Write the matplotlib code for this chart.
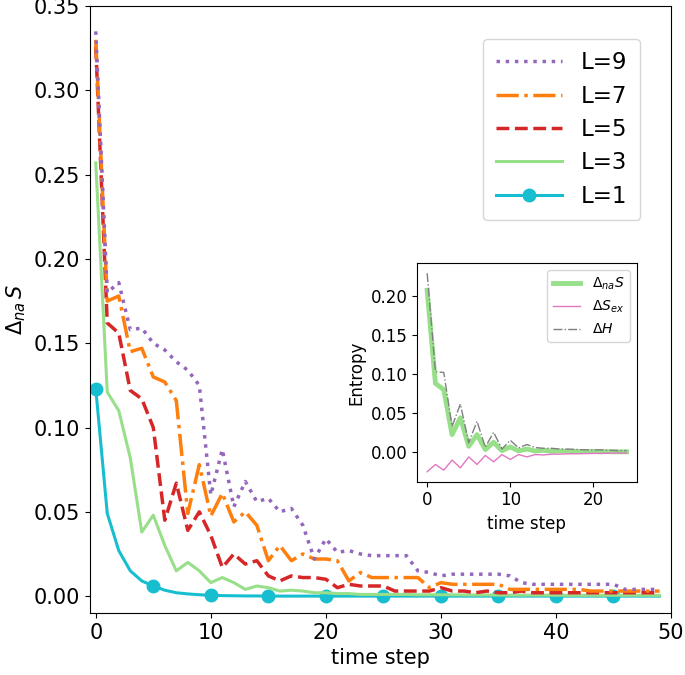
import numpy as np
import matplotlib
matplotlib.use("Agg")
import matplotlib.pyplot as plt

# main panel: Delta_na S per time step for each L
t = np.arange(50)
s_L1 = [0.123, 0.049, 0.027, 0.015, 0.009, 0.006, 0.0035, 0.002, 0.0013, 0.0008,
        0.0005, 0.0003, 0.0002, 0.0001, 0.0001] + [0.0] * 35
s_L3 = [0.257, 0.121, 0.110, 0.082, 0.038, 0.048, 0.030, 0.015, 0.020, 0.015,
        0.008, 0.011, 0.008, 0.004, 0.006, 0.005, 0.003, 0.0035, 0.003, 0.002,
        0.002, 0.0015, 0.0015, 0.001, 0.001, 0.001, 0.001, 0.001, 0.0008, 0.0008,
        0.0008, 0.0008, 0.0007, 0.0007, 0.0007, 0.0006, 0.0006, 0.0006, 0.0006, 0.0006,
        0.0005, 0.0005, 0.0005, 0.0005, 0.0005, 0.0005, 0.0005, 0.0005, 0.0005, 0.0005]
s_L5 = [0.326, 0.162, 0.156, 0.122, 0.117, 0.100, 0.045, 0.067, 0.039, 0.050,
        0.036, 0.017, 0.025, 0.019, 0.021, 0.012, 0.009, 0.012, 0.011, 0.011,
        0.010, 0.005, 0.007, 0.006, 0.006, 0.006, 0.003, 0.003, 0.003, 0.003,
        0.005, 0.003, 0.003, 0.002, 0.003, 0.002, 0.002, 0.003, 0.002, 0.002,
        0.002, 0.002, 0.002, 0.002, 0.002, 0.002, 0.002, 0.002, 0.002, 0.002]
s_L7 = [0.330, 0.175, 0.178, 0.145, 0.147, 0.130, 0.127, 0.116, 0.049, 0.078,
        0.0475, 0.061, 0.044, 0.050, 0.042, 0.021, 0.030, 0.021, 0.025, 0.022,
        0.022, 0.021, 0.009, 0.014, 0.011, 0.011, 0.011, 0.011, 0.011, 0.005,
        0.008, 0.007, 0.007, 0.007, 0.007, 0.007, 0.004, 0.004, 0.004, 0.004,
        0.004, 0.004, 0.004, 0.003, 0.003, 0.003, 0.003, 0.003, 0.003, 0.003]
s_L9 = [0.335, 0.180, 0.186, 0.158, 0.159, 0.150, 0.146, 0.139, 0.134, 0.125,
        0.060, 0.087, 0.053, 0.068, 0.056, 0.058, 0.050, 0.052, 0.042, 0.022,
        0.034, 0.026, 0.027, 0.025, 0.024, 0.024, 0.024, 0.024, 0.015, 0.014,
        0.012, 0.013, 0.013, 0.013, 0.013, 0.013, 0.012, 0.008, 0.007, 0.007,
        0.007, 0.007, 0.007, 0.007, 0.007, 0.007, 0.004, 0.004, 0.004, 0.004]

# inset: L=3 entropy decomposition
t_in = np.arange(25)
na_S = [0.207, 0.088, 0.080, 0.0225, 0.044, 0.0076, 0.0225, 0.0034, 0.0127, 0.002,
        0.0068, 0.0017, 0.004, 0.0015, 0.0025, 0.0012, 0.0015, 0.001, 0.001, 0.0008,
        0.0008, 0.0006, 0.0006, 0.0005, 0.0005]
S_ex = [-0.025, -0.0157, -0.023, -0.010, -0.020, -0.006, -0.0157, -0.0042, -0.0123, -0.003,
        -0.0093, -0.003, -0.006, -0.003, -0.0035, -0.0025, -0.0025, -0.002, -0.002, -0.0018,
        -0.0015, -0.0015, -0.0012, -0.001, -0.001]
dH = [0.229, 0.103, 0.102, 0.033, 0.0616, 0.012, 0.0395, 0.0064, 0.0255, 0.004,
      0.0153, 0.0055, 0.0098, 0.006, 0.005, 0.005, 0.004, 0.004, 0.0035, 0.003,
      0.003, 0.003, 0.0025, 0.002, 0.002]

fig = plt.figure(figsize=(6.85, 6.75), dpi=100)
ax = fig.add_axes([0.1314, 0.0919, 0.8482, 0.8991])

ax.plot(t, s_L1, color="#17becf", lw=2.2, marker="o", markersize=9, markevery=5, label="L=1")
ax.plot(t, s_L3, color="#98df8a", lw=2.2, label="L=3")
ax.plot(t, s_L5, color="#d62728", lw=2.5, ls="--", label="L=5")
ax.plot(t, s_L7, color="#ff7f0e", lw=2.5, ls="-.", label="L=7")
ax.plot(t, s_L9, color="#9467bd", lw=2.5, ls=":", label="L=9")

ax.set_xlim(-0.5, 50)
ax.set_ylim(-0.01, 0.35)
ax.set_yticks(np.arange(0, 0.36, 0.05))
ax.tick_params(labelsize=15)
ax.set_xlabel("time step", fontsize=15)
ax.set_ylabel(r"$\Delta_{na}\,S$", fontsize=15)

h, l = ax.get_legend_handles_labels()
ax.legend(h[::-1], l[::-1], loc="upper right", bbox_to_anchor=(0.966, 0.965),
          fontsize=16.5, handlelength=2.9, labelspacing=0.45, borderpad=0.55,
          handletextpad=0.8)

ins = fig.add_axes([0.609, 0.2864, 0.3203, 0.3236])
ins.plot(t_in, na_S, color="#98df8a", lw=3.5, label=r"$\Delta_{na}S$")
ins.plot(t_in, S_ex, color="#e377c2", lw=1, label=r"$\Delta S_{ex}$")
ins.plot(t_in, dH, color="#7f7f7f", lw=1, ls="-.", label=r"$\Delta H$")
ins.set_yticks([0.0, 0.05, 0.10, 0.15, 0.20])
ins.tick_params(labelsize=12)
ins.set_xlabel("time step", fontsize=12)
ins.set_ylabel("Entropy", fontsize=12)
ins.legend(loc="upper right", fontsize=10)

fig.savefig("out.png", dpi=100)
